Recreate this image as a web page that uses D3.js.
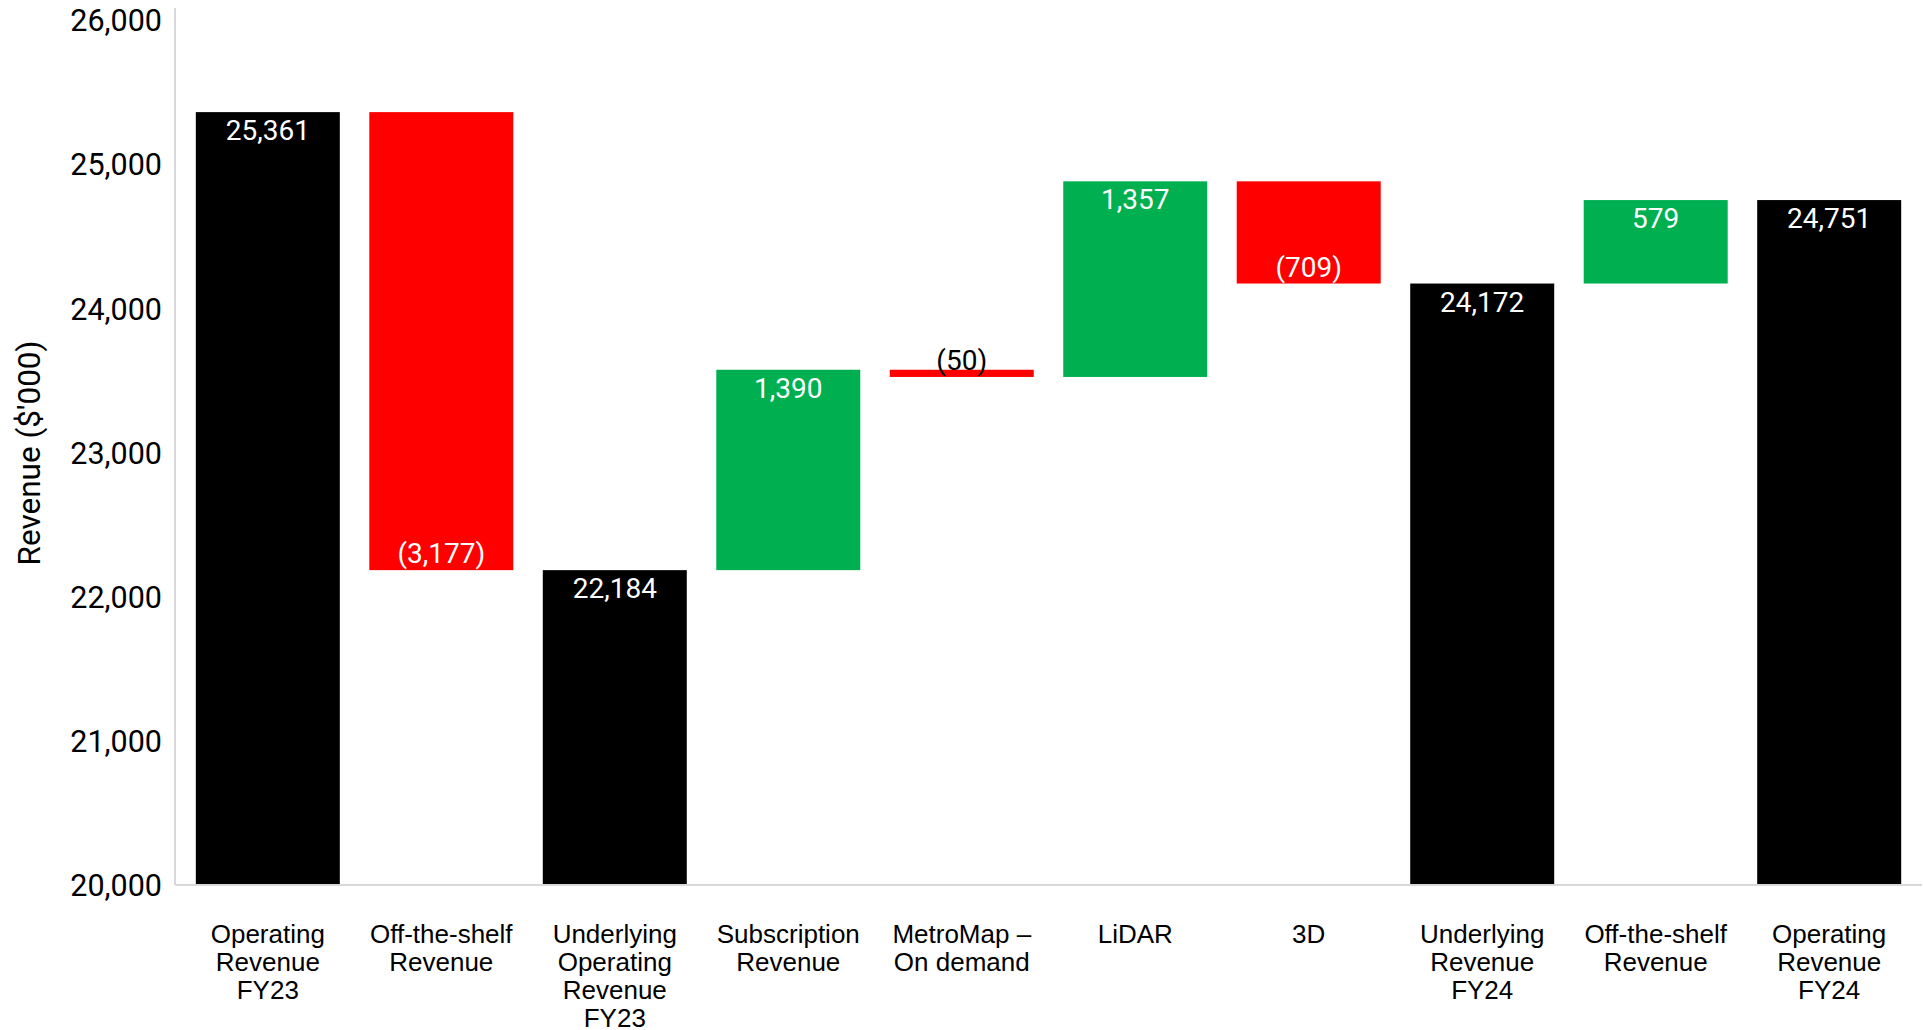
<!DOCTYPE html>
<html>
<head>
<meta charset="utf-8">
<script src="https://cdn.jsdelivr.net/npm/d3@7"></script>
<style>
  body { margin: 0; background: #fff; }
</style>
</head>
<body>
<div id="chart"></div>
<script>
// data
var categories = [
  ["Operating", "Revenue", "FY23"],
  ["Off-the-shelf", "Revenue"],
  ["Underlying", "Operating", "Revenue", "FY23"],
  ["Subscription", "Revenue"],
  ["MetroMap \u2013", "On demand"],
  ["LiDAR"],
  ["3D"],
  ["Underlying", "Revenue", "FY24"],
  ["Off-the-shelf", "Revenue"],
  ["Operating", "Revenue", "FY24"]
];
// "total" bars start from the axis, "delta" bars float
var kinds  = ["total", "delta", "total", "delta", "delta", "delta", "delta", "total", "delta", "total"];
var values = [25361, -3177, 22184, 1390, -50, 1357, -709, 24172, 579, 24751];
var yTicks = [20000, 21000, 22000, 23000, 24000, 25000, 26000];

var margin = {top: 20, right: 1, bottom: 145, left: 175},
    width = 1923 - margin.left - margin.right,
    height = 1030 - margin.top - margin.bottom;

var svg = d3.select("#chart").append("svg")
    .attr("width", width + margin.left + margin.right)
    .attr("height", height + margin.top + margin.bottom)
  .append("g")
    .attr("transform", "translate(" + margin.left + "," + margin.top + ")");

var x = d3.scaleBand().domain(d3.range(categories.length)).range([0, width])
    .paddingInner(0.17).paddingOuter(0.12);
var y = d3.scaleLinear().domain([20000, 26000]).range([height, 0]);

// running totals
var run = 0, bars = [];
values.forEach(function(v, i) {
  var lo, hi;
  if (kinds[i] == "total") { lo = 20000; hi = v; run = v; }
  else { lo = Math.min(run, run + v); hi = Math.max(run, run + v); run = run + v; }
  bars.push({i: i, v: v, kind: kinds[i], lo: lo, hi: hi});
});

function color(d) {
  if (d.kind == "total") return "#000000";
  return d.v < 0 ? "#ff0000" : "#00b050";
}
function fmt(d) {
  var s = d3.format(",")(Math.abs(d.v));
  return d.v < 0 ? "(" + s + ")" : s;
}

// axis lines
svg.append("line")
    .attr("x1", 0).attr("x2", 0)
    .attr("y1", -12).attr("y2", height)
    .attr("stroke", "#d9d9d9").attr("stroke-width", 2);

svg.append("g")
    .attr("class", "y-axis")
    .style("font-family", "Roboto")
    .style("font-size", "30.5px")
    .call(d3.axisLeft(y).tickValues(yTicks).tickSize(0).tickPadding(13).tickFormat(d3.format(",")))
    .call(function(g) { g.select(".domain").remove(); })
    .selectAll("text").attr("fill", "#000").attr("dy", "0.35em");

svg.selectAll("rect.bar")
  .data(bars)
  .enter().append("rect")
    .attr("class", "bar")
    .attr("x", function(d) { return x(d.i); })
    .attr("y", function(d) { return y(d.hi); })
    .attr("width", x.bandwidth())
    .attr("height", function(d) { return Math.max(y(d.lo) - y(d.hi), 1); })
    .attr("fill", color);

svg.append("line")
    .attr("x1", 0).attr("x2", width)
    .attr("y1", height).attr("y2", height)
    .attr("stroke", "#d9d9d9").attr("stroke-width", 2);

// value labels
svg.selectAll("text.val")
  .data(bars)
  .enter().append("text")
    .attr("class", "val")
    .attr("x", function(d) { return x(d.i) + x.bandwidth() / 2; })
    .attr("y", function(d) {
      return d.v < 0 && d.kind == "delta" ? y(d.lo) - 7 : y(d.hi) + 28;
    })
    .attr("text-anchor", "middle")
    .attr("font-family", "Roboto")
    .attr("font-size", "28px")
    .attr("fill", function(d) { return (y(d.lo) - y(d.hi)) < 30 ? "#000" : "#fff"; })
    .text(fmt);

// category labels
var cat = svg.selectAll("text.cat")
  .data(categories)
  .enter().append("text")
    .attr("class", "cat")
    .attr("x", function(d, i) { return x(i) + x.bandwidth() / 2; })
    .attr("y", height + 58)
    .attr("text-anchor", "middle")
    .attr("font-family", "Liberation Sans, Arial")
    .attr("font-size", "26px")
    .attr("fill", "#000");

cat.selectAll("tspan")
  .data(function(d) { return d; })
  .enter().append("tspan")
    .attr("x", function() { return d3.select(this.parentNode).attr("x"); })
    .attr("dy", function(d, i) { return i == 0 ? 0 : 28; })
    .text(function(d) { return d; });

// y title
svg.append("text")
    .attr("transform", "translate(" + (-146) + "," + 433 + ") rotate(-90)")
    .attr("text-anchor", "middle")
    .attr("dy", "0.35em")
    .attr("font-family", "Roboto")
    .attr("font-size", "31.5px")
    .attr("fill", "#000")
    .text("Revenue ($'000)");
</script>
</body>
</html>
